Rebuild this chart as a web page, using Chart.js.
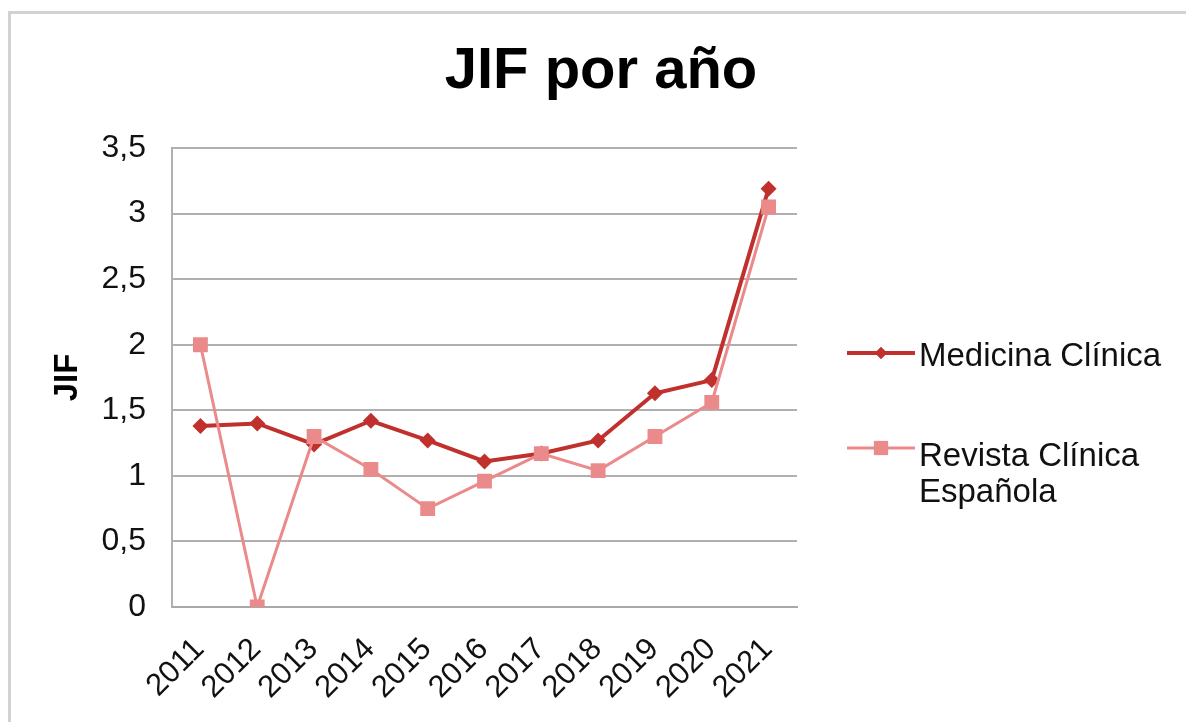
<!DOCTYPE html>
<html>
<head>
<meta charset="utf-8">
<script src="https://cdn.jsdelivr.net/npm/chart.js@4"></script>
<style>
  html, body { margin: 0; padding: 0; background: #ffffff; }
  #wrap { position: relative; width: 1186px; height: 722px; overflow: hidden; }
  #frame { position: absolute; left: 8px; top: 11px; width: 1200px; height: 760px;
           border-top: 3px solid #d2d2d2; border-left: 3px solid #d2d2d2; box-sizing: border-box; }
  #c { position: absolute; left: 0; top: 0; }
</style>
</head>
<body>
<div id="wrap">
  <div id="frame"></div>
  <canvas id="c" width="1186" height="722"></canvas>
</div>
<script>
const years = ['2011','2012','2013','2014','2015','2016','2017','2018','2019','2020','2021'];
const medicinaClinica = [1.38, 1.40, 1.24, 1.42, 1.27, 1.11, 1.17, 1.27, 1.63, 1.73, 3.19];
const revistaClinicaEspanola = [2.00, 0.00, 1.30, 1.05, 0.75, 0.96, 1.17, 1.04, 1.30, 1.56, 3.05];
const seriesNames = ['Medicina Clínica', 'Revista Clínica Española'];
const yTicks = [0, 0.5, 1, 1.5, 2, 2.5, 3, 3.5];
const chartTitle = 'JIF por año';
const yTitle = 'JIF';

const FONT = '"Liberation Sans", Arial, sans-serif';
const RED = '#c0302c';
const PINK = '#ea8a8a';

const titlePlugin = {
  id: 'centerTitle',
  afterDraw(chart) {
    const ctx = chart.ctx;
    ctx.save();
    ctx.font = 'bold 58px ' + FONT;
    ctx.fillStyle = '#000000';
    ctx.textAlign = 'center';
    ctx.textBaseline = 'alphabetic';
    ctx.fillText(chartTitle, 601, 88);
    ctx.restore();
  }
};

const legendPlugin = {
  id: 'sideLegend',
  afterDraw(chart) {
    const ctx = chart.ctx;
    const items = [
      { lineY: 353, textY: 357 },
      { lineY: 448, textY: 457 }
    ];
    ctx.save();
    ctx.font = '33px ' + FONT;
    ctx.textBaseline = 'middle';
    ctx.textAlign = 'left';
    chart.data.datasets.forEach((ds, i) => {
      const it = items[i];
      ctx.strokeStyle = ds.borderColor;
      ctx.lineWidth = ds.borderWidth;
      ctx.beginPath();
      ctx.moveTo(847, it.lineY);
      ctx.lineTo(915, it.lineY);
      ctx.stroke();
      ctx.fillStyle = ds.pointBackgroundColor;
      Chart.helpers.drawPoint(ctx, { pointStyle: ds.pointStyle, radius: ds.legendRadius, borderWidth: 0, rotation: 0 }, 881, it.lineY);
      ctx.fill();
      ctx.fillStyle = '#111111';
      const words = ds.label.split(' ');
      const lines = [];
      let cur = '';
      words.forEach(w => {
        const test = cur ? cur + ' ' + w : w;
        if (ctx.measureText(test).width > 260 && cur) { lines.push(cur); cur = w; }
        else cur = test;
      });
      if (cur) lines.push(cur);
      lines.forEach((ln, k) => ctx.fillText(ln, 919, it.textY + k * 36));
    });
    ctx.restore();
  }
};

new Chart(document.getElementById('c'), {
  type: 'line',
  data: {
    labels: years,
    datasets: [
      {
        label: seriesNames[0],
        data: medicinaClinica,
        borderColor: RED,
        backgroundColor: RED,
        pointBackgroundColor: RED,
        pointBorderColor: RED,
        borderWidth: 4,
        pointStyle: 'rectRot',
        pointRadius: 8,
        pointBorderWidth: 0,
        legendRadius: 6,
        tension: 0,
        order: 1
      },
      {
        label: seriesNames[1],
        data: revistaClinicaEspanola,
        borderColor: PINK,
        backgroundColor: PINK,
        pointBackgroundColor: PINK,
        pointBorderColor: PINK,
        borderWidth: 3,
        pointStyle: 'rect',
        pointRadius: 10.5,
        pointBorderWidth: 0,
        legendRadius: 10,
        tension: 0,
        order: 0
      }
    ]
  },
  options: {
    responsive: false,
    animation: false,
    events: [],
    layout: { padding: { left: 20, right: 389, top: 148, bottom: 0 } },
    plugins: {
      legend: { display: false },
      tooltip: { enabled: false },
      title: { display: false }
    },
    scales: {
      x: {
        type: 'category',
        offset: true,
        grid: { display: false, drawTicks: false },
        border: { display: true, color: '#a8a8a8', width: 2 },
        ticks: {
          color: '#111111',
          font: { family: FONT, size: 31 },
          minRotation: 45,
          maxRotation: 45,
          padding: 24,
          labelOffset: -1,
          autoSkip: false
        },
        afterFit(scale) { scale.height = 115; }
      },
      y: {
        min: 0,
        max: 3.5,
        afterBuildTicks(scale) { scale.ticks = yTicks.map(v => ({ value: v })); },
        grid: { color: '#b0b0b0', lineWidth: 2, drawTicks: false },
        border: { display: true, color: '#b0b0b0', width: 2 },
        ticks: {
          color: '#111111',
          font: { family: FONT, size: 32 },
          padding: 26,
          callback: v => String(v).replace('.', ',')
        },
        title: {
          display: true,
          text: yTitle,
          color: '#000000',
          font: { family: FONT, size: 33, weight: 'bold' },
          padding: { top: 28, bottom: 0 }
        },
        afterFit(scale) { scale.width = 152; }
      }
    }
  },
  plugins: [titlePlugin, legendPlugin]
});
</script>
</body>
</html>
